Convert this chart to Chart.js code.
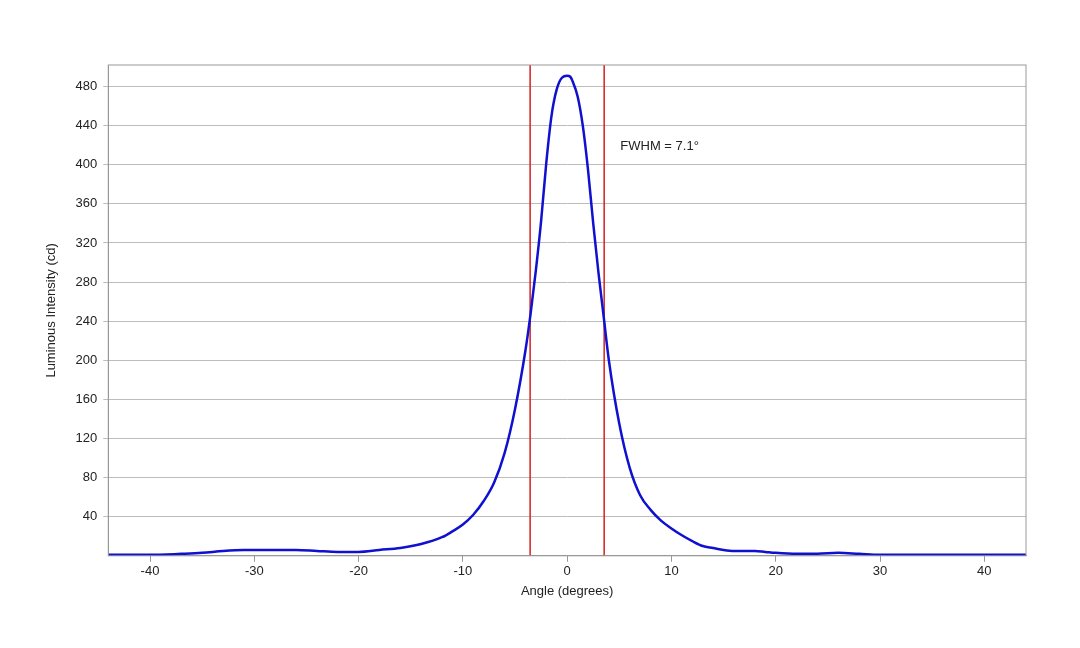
<!DOCTYPE html>
<html>
<head>
<meta charset="utf-8">
<script src="https://cdn.jsdelivr.net/npm/chart.js@4"></script>
<style>
  html, body { margin: 0; padding: 0; background: #fff; }
  #wrap { width: 1080px; height: 648px; position: relative; }
</style>
</head>
<body>
<div id="wrap"><canvas id="chart"></canvas></div>
<script>
// ===== Beam profile data =====
const angles = [-44, -40, -37, -35, -33, -31, -28, -26, -24, -22, -20, -18, -16, -14, -12, -11, -10, -9, -8, -7, -6, -5, -4, -3.5, -3, -2.5, -2, -1.5, -1, -0.5, 0, 0.3, 0.5, 1, 1.5, 2, 2.5, 3, 3.5, 4, 5, 6, 7, 8, 9, 10, 11, 12, 13, 14, 15, 16, 18, 19, 20, 22, 24, 26, 28, 30, 35, 40, 44];
const intensity = [1, 1, 2, 3, 5, 6, 6, 6, 5, 4, 4, 6, 8, 12, 19, 25, 32, 42, 56, 75, 105, 150, 210, 248, 292, 342, 402, 450, 477, 489, 491, 490, 486, 470, 440, 395, 340, 290, 245, 200, 135, 90, 62, 47, 36, 28, 21, 15, 10, 8, 6, 5, 5, 4, 3, 2, 2, 3, 2, 1, 1, 1, 1];
const fwhmLines = [-3.55, 3.55];
const yTicks = [40, 80, 120, 160, 200, 240, 280, 320, 360, 400, 440, 480];
const xTicks = [-40, -30, -20, -10, 0, 10, 20, 30, 40];
const fwhmLabel = 'FWHM = 7.1°';

const font = { family: 'Liberation Sans, Arial, sans-serif', size: 13 };

const datasets = [{
  data: angles.map((a, i) => ({ x: a, y: intensity[i] })),
  borderColor: '#0f10d0',
  borderWidth: 2.5,
  pointRadius: 0,
  cubicInterpolationMode: 'monotone',
  fill: false,
  order: 0
}];
fwhmLines.forEach(x => {
  datasets.push({
    data: [{ x, y: 0 }, { x, y: 502 }],
    borderColor: '#d42020',
    borderWidth: 1.5,
    pointRadius: 0,
    fill: false,
    order: 1
  });
});

const labelPlugin = {
  id: 'fwhmLabel',
  afterDraw(chart) {
    const { ctx, scales } = chart;
    ctx.save();
    ctx.fillStyle = '#222';
    ctx.font = '13px Liberation Sans, Arial, sans-serif';
    ctx.textBaseline = 'middle';
    ctx.fillText(fwhmLabel, scales.x.getPixelForValue(5.1), scales.y.getPixelForValue(419));
    ctx.restore();
  }
};

new Chart(document.getElementById('chart'), {
  type: 'line',
  data: { datasets },
  options: {
    responsive: true,
    maintainAspectRatio: false,
    animation: false,
    layout: { padding: { left: 40, right: 54, top: 65, bottom: 45 } },
    plugins: { legend: { display: false }, tooltip: { enabled: false } },
    scales: {
      x: {
        type: 'linear',
        min: -44, max: 44,
        afterBuildTicks: (axis) => { axis.ticks = xTicks.map(v => ({ value: v })); },
        grid: { drawOnChartArea: false, drawTicks: true, tickLength: 6, color: '#999' },
        border: { color: '#999' },
        ticks: { color: '#222', font, padding: 2 },
        title: { display: true, text: 'Angle (degrees)', color: '#222', font, padding: { top: 2 } }
      },
      y: {
        min: 0, max: 502,
        afterBuildTicks: (axis) => { axis.ticks = yTicks.map(v => ({ value: v })); },
        grid: { color: '#bdbdbd', lineWidth: 1, tickLength: 5 },
        border: { color: '#999' },
        ticks: { color: '#222', font, padding: 6 },
        title: { display: true, text: 'Luminous Intensity (cd)', color: '#222', font, padding: { bottom: 10 } }
      }
    }
  },
  plugins: [labelPlugin, {
    id: 'frame',
    afterDraw(chart) {
      const { ctx, chartArea: a } = chart;
      ctx.save();
      ctx.strokeStyle = '#999';
      ctx.lineWidth = 1;
      ctx.strokeRect(a.left, a.top, a.right - a.left, a.bottom - a.top);
      ctx.restore();
    }
  }]
});
</script>
</body>
</html>
